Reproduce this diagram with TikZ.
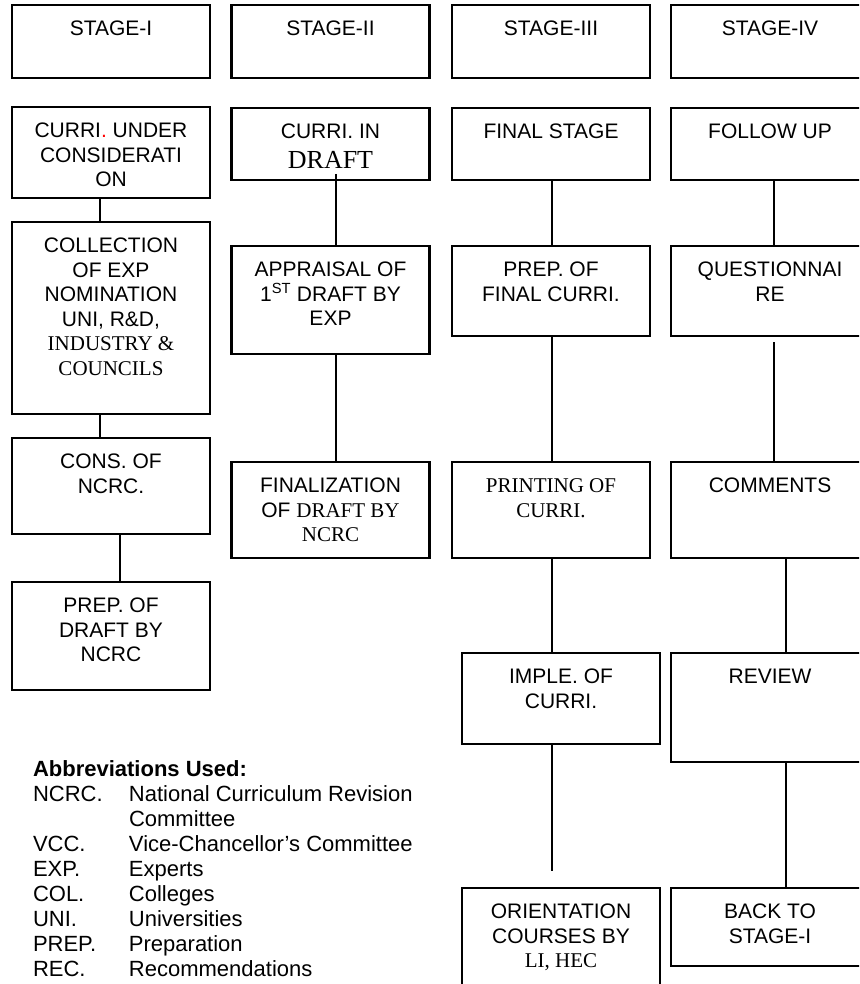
\documentclass[tikz,border=0pt]{standalone}
\usepackage{fontspec}
\setmainfont{Liberation Sans}
\newfontfamily\timesrm{Liberation Serif}
\usepackage{tikz}
\usetikzlibrary{positioning}
\newcommand{\stagefont}{\fontsize{21}{24.5}\selectfont}
\newcommand{\abbrfont}{\fontsize{22}{25}\selectfont}
\tikzstyle{boxnode}=[draw, rectangle, minimum width=198pt, outer sep=0pt, line width=2.2pt]
\tikzstyle{textnode}=[draw=none, fill=none, align=center, inner sep=0pt, font=\stagefont]

\begin{document}
\begin{tikzpicture}[x=1pt, y=-1pt, line width=2pt]
\useasboundingbox (0,0) rectangle (859,984);
\clip (0,0) rectangle (859,984);
% stage headers
\node[boxnode, minimum height=73pt, anchor=north west] (st1) at (12,5) {};
\node[boxnode, minimum height=73pt, anchor=north west] (st2) at (231.5,5) {};
\node[boxnode, minimum height=73pt, anchor=north west] (st3) at (452,5) {};
\node[boxnode, minimum height=73pt, anchor=north west] (st4) at (671,5) {};
\node[textnode, below=15pt of st1.north] (st1t) {STAGE-I};
\node[textnode, below=15pt of st2.north] (st2t) {STAGE-II};
\node[textnode, below=15pt of st3.north] (st3t) {STAGE-III};
\node[textnode, below=15pt of st4.north] (st4t) {STAGE-IV};
% stage I
\node[boxnode, minimum height=91pt, anchor=north west] (c1a) at (12,107) {};
\node[boxnode, minimum height=192pt, below=24pt of c1a] (c1b) {};
\node[boxnode, minimum height=96pt, below=24pt of c1b] (c1c) {};
\node[boxnode, minimum height=108pt, below=48pt of c1c] (c1d) {};
\node[textnode, below=15pt of c1a.north] (c1at) {CURRI\textcolor{red}{.} UNDER\\CONSIDERATI\\ON};
\node[textnode, below=15pt of c1b.north] (c1bt) {COLLECTION\\OF EXP\\NOMINATION\\UNI, R\&D,\\{\timesrm INDUSTRY \&}\\{\timesrm COUNCILS}};
\node[textnode, below=15pt of c1c.north] (c1ct) {CONS. OF\\NCRC.};
\node[textnode, below=15pt of c1d.north] (c1dt) {PREP. OF\\DRAFT BY\\NCRC};
% stage II
\node[boxnode, minimum height=72pt, anchor=north west] (c2a) at (231.5,108) {};
\node[boxnode, minimum height=108pt, below=66pt of c2a] (c2b) {};
\node[boxnode, minimum height=96pt, below=108pt of c2b] (c2c) {};
\node[textnode, below=15pt of c2a.north] (c2at) {CURRI. IN\\[5.5pt]{\timesrm\fontsize{26}{30}\selectfont DRAFT}};
\node[textnode, below=15pt of c2b.north] (c2bt) {APPRAISAL OF\\1\textsuperscript{ST} DRAFT BY\\EXP};
\node[textnode, below=15pt of c2c.north] (c2ct) {FINALIZATION\\OF {\timesrm DRAFT BY}\\{\timesrm NCRC}};
% stage III
\node[boxnode, minimum height=72pt, anchor=north west] (c3a) at (452,108) {};
\node[boxnode, minimum height=90pt, below=66pt of c3a] (c3b) {};
\node[boxnode, minimum height=96pt, below=126pt of c3b] (c3c) {};
\node[boxnode, minimum height=91pt, below=95pt of c3c, xshift=10pt] (c3d) {};
\node[boxnode, minimum height=110pt, below=144pt of c3d] (c3e) {};
\node[textnode, below=15pt of c3a.north] (c3at) {FINAL STAGE};
\node[textnode, below=15pt of c3b.north] (c3bt) {PREP. OF\\FINAL CURRI.};
\node[textnode, below=16pt of c3c.north] (c3ct) {{\timesrm PRINTING OF}\\{\timesrm CURRI.}};
\node[textnode, below=15pt of c3d.north] (c3dt) {IMPLE. OF\\CURRI.};
\node[textnode, below=15pt of c3e.north] (c3et) {ORIENTATION\\COURSES BY\\{\timesrm LI, HEC}};
% stage IV
\node[boxnode, minimum height=72pt, anchor=north west] (c4a) at (671,108) {};
\node[boxnode, minimum height=90pt, below=66pt of c4a] (c4b) {};
\node[boxnode, minimum height=96pt, below=126pt of c4b] (c4c) {};
\node[boxnode, minimum height=109pt, below=95pt of c4c] (c4d) {};
\node[boxnode, minimum height=78pt, below=126pt of c4d] (c4e) {};
\node[textnode, below=15pt of c4a.north] (c4at) {FOLLOW UP};
\node[textnode, below=15pt of c4b.north] (c4bt) {QUESTIONNAI\\RE};
\node[textnode, below=15pt of c4c.north] (c4ct) {COMMENTS};
\node[textnode, below=15pt of c4d.north] (c4dt) {REVIEW};
\node[textnode, below=15pt of c4e.north] (c4et) {BACK TO\\STAGE-I};
% links
\draw ([xshift=-11pt]c1a.south) -- ([xshift=-11pt]c1b.north);
\draw ([xshift=-11pt]c1b.south) -- ([xshift=-11pt]c1c.north);
\draw ([xshift=9pt]c1c.south) -- ([xshift=9pt]c1d.north);
\draw ([xshift=5.5pt,yshift=6pt]c2a.south) -- ([xshift=5.5pt]c2b.north);
\draw ([xshift=5.5pt]c2b.south) -- ([xshift=5.5pt]c2c.north);
\draw ([xshift=1pt]c3a.south) -- ([xshift=1pt]c3b.north);
\draw ([xshift=1pt]c3b.south) -- ([xshift=1pt]c3c.north);
\draw ([xshift=1pt]c3c.south) -- ([xshift=-9pt]c3d.north);
\draw ([xshift=-9pt]c3d.south) -- ([xshift=-9pt,yshift=17pt]c3e.north);
\draw ([xshift=4pt]c4a.south) -- ([xshift=4pt]c4b.north);
\draw ([xshift=4pt,yshift=-6pt]c4b.south) -- ([xshift=4pt]c4c.north);
\draw ([xshift=16pt]c4c.south) -- ([xshift=16pt]c4d.north);
\draw ([xshift=16pt]c4d.south) -- ([xshift=16pt]c4e.north);
% abbreviations
\node[anchor=north west, inner sep=0pt, font=\abbrfont] (abbr) at (32,757.5) {%
\begin{tabular}{@{}p{96pt}@{}l@{}}
\multicolumn{2}{@{}l@{}}{\textbf{Abbreviations Used:}}\\
NCRC. & National Curriculum Revision\\
 & Committee\\
VCC. & Vice-Chancellor's Committee\\
EXP. & Experts\\
COL. & Colleges\\
UNI. & Universities\\
PREP. & Preparation\\
REC. & Recommendations
\end{tabular}};
\end{tikzpicture}
\end{document}
